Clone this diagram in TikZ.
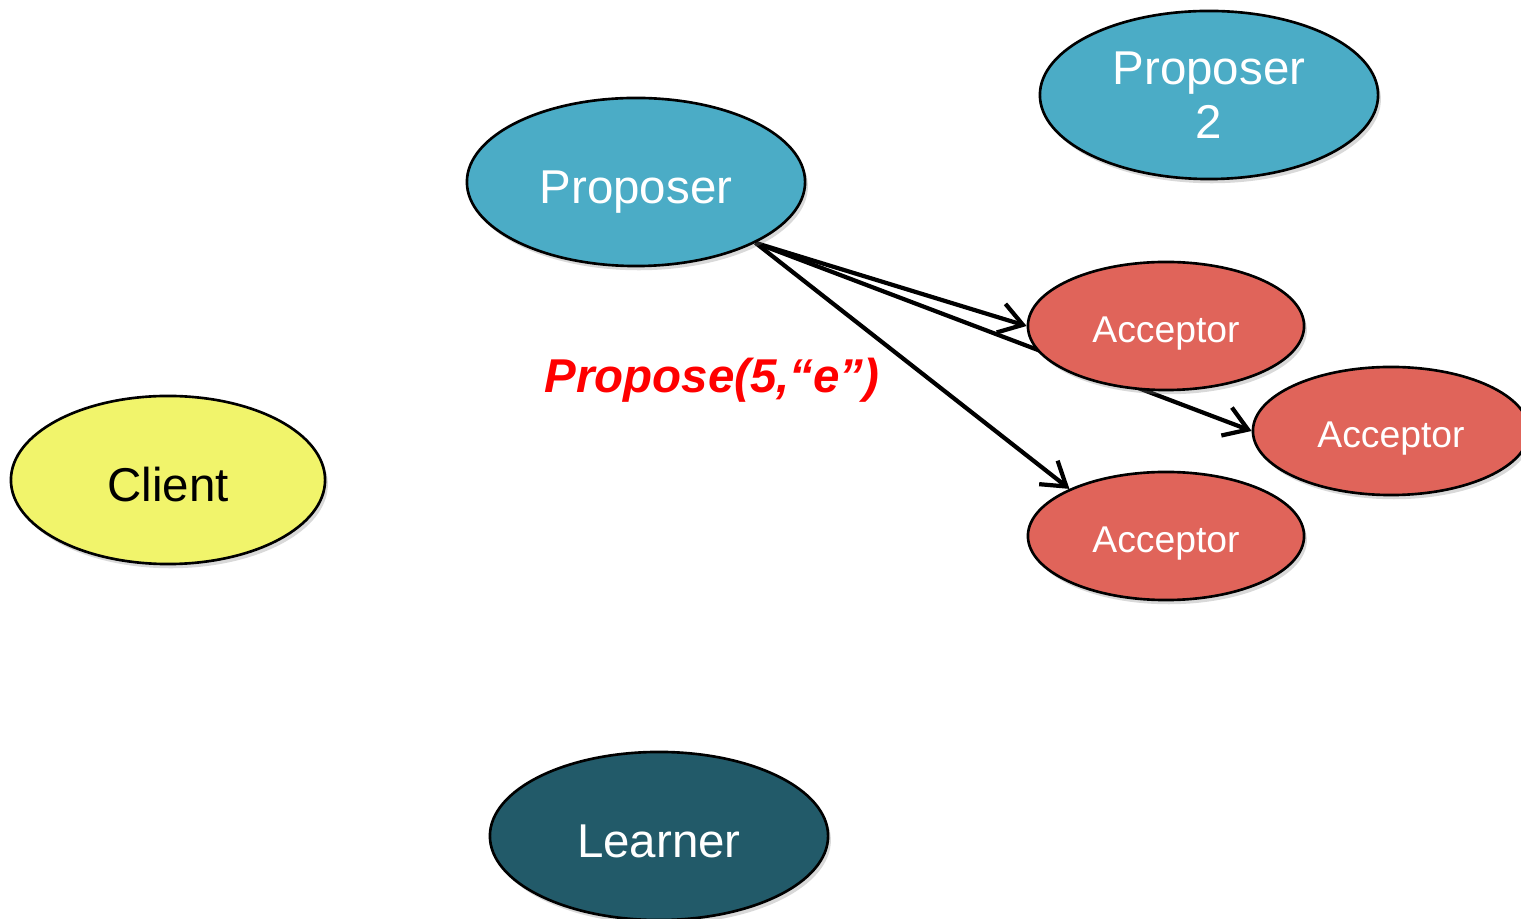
\documentclass[tikz,border=0pt]{standalone}
\usepackage{fontspec}
\setmainfont{Liberation Sans}
\usetikzlibrary{shapes.geometric,arrows.meta,shadows,backgrounds}
\definecolor{propc}{HTML}{4BACC6}
\definecolor{accc}{HTML}{E0645A}
\definecolor{clic}{HTML}{F1F46B}
\definecolor{learc}{HTML}{225A69}
\begin{document}
\begin{tikzpicture}[x=0.01cm,y=-0.01cm,
  role/.style={ellipse,draw=black,line width=0.75pt,inner sep=0pt,
    drop shadow={opacity=0.3,shadow xshift=0.8pt,shadow yshift=-1.2pt},
    font=\fontsize{13.5}{15.4}\selectfont,align=center},
  oneline/.style={text height=12pt,text depth=0pt},
  big/.style={role,minimum width=3.38cm,minimum height=1.68cm},
  acc/.style={role,text height=9.6pt,text depth=0pt,fill=accc,text=white,minimum width=2.76cm,minimum height=1.28cm,
    font=\fontsize{10.6}{12}\selectfont},
  msg/.style={draw=black,line width=1.2pt,-{Straight Barb[length=6.5pt,width=8.5pt,line width=1.2pt]}}]
\useasboundingbox (0,0) rectangle (1521,919);
\node[big,oneline,fill=propc,text=white] (p) at (636,182) {Proposer};
\node[big,fill=propc,text=white] (p2) at (1209,95) {Proposer\\2};
\node[acc] (a1) at (1166,326) {Acceptor};
\node[acc] (a2) at (1391,431) {Acceptor};
\node[acc] (a3) at (1166,536) {Acceptor};
\node[big,oneline,fill=clic,text=black,minimum width=3.14cm] (c) at (168,480) {Client};
\node[big,oneline,fill=learc,text=white] (l) at (659,836) {Learner};
\node[text=red,font=\fontsize{13.5}{15}\selectfont\bfseries\itshape] (lab) at (712,380) {Propose(5,“e”)};
\begin{pgfonlayer}{background}
\draw[msg] (p.-27) -- (a1.west);
\draw[msg] (p.-27) -- (a2.west);
\draw[msg] (p.-27) -- (a3.154);
\end{pgfonlayer}
\end{tikzpicture}
\end{document}
